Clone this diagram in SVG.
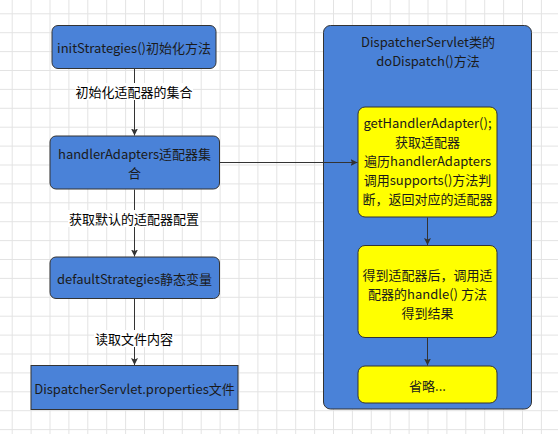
<svg xmlns="http://www.w3.org/2000/svg" width="558" height="434" viewBox="0 0 558 434">
<style>
.bg{fill:#ffffff}
.blue{fill:#4a82d8;stroke:#333333;stroke-width:1}
.yel{fill:#ffff00;stroke:#333333;stroke-width:1}
.t{font-family:"Noto Sans CJK SC","Liberation Sans",sans-serif;font-size:13px;fill:#1a1a1a;text-anchor:middle;dominant-baseline:central}
.lbl{font-family:"Noto Sans CJK SC","Liberation Sans",sans-serif;font-size:13px;fill:#000000;text-anchor:middle;dominant-baseline:central}
.edge{stroke:#333333;stroke-width:1;fill:none}
.lblbg{fill:#ffffff}
</style>
<defs>
<pattern id="grid" patternUnits="userSpaceOnUse" x="11.7" y="13.3" width="18.9" height="18.9">
<path d="M0.5 0V18.9M0 0.5H18.9" stroke="#e3e3e3" stroke-width="1" fill="none"/>
</pattern>
<marker id="arr" markerWidth="8" markerHeight="8" refX="7" refY="4" orient="auto" markerUnits="userSpaceOnUse">
<path d="M0 0.5L7 4L0 7.5L1.5 4Z" fill="#333333"/>
</marker>
</defs>
<rect class="bg" width="558" height="434"/>
<rect width="558" height="434" fill="url(#grid)"/>

<g id="container">
<rect class="blue" x="323.5" y="25.5" width="208" height="383.5" rx="7"/>
<text class="t" x="428" y="41">DispatcherServlet类的</text>
<text class="t" x="428" y="60">doDispatch()方法</text>
</g>

<g id="connectors">
<line class="edge" x1="134.5" y1="68.5" x2="134.5" y2="135.5" marker-end="url(#arr)"/>
<line class="edge" x1="134.5" y1="189.5" x2="134.5" y2="256.5" marker-end="url(#arr)"/>
<line class="edge" x1="134.5" y1="298.5" x2="134.5" y2="365" marker-end="url(#arr)"/>
<line class="edge" x1="219.5" y1="162.5" x2="357.5" y2="162.5" marker-end="url(#arr)"/>
<line class="edge" x1="427.5" y1="217.5" x2="427.5" y2="245" marker-end="url(#arr)"/>
<line class="edge" x1="427.5" y1="337.5" x2="427.5" y2="365.5" marker-end="url(#arr)"/>
<rect class="lblbg" x="75" y="83" width="118" height="17"/>
<text class="lbl" x="134" y="91">初始化适配器的集合</text>
<rect class="lblbg" x="68" y="210" width="132" height="17"/>
<text class="lbl" x="134" y="218">获取默认的适配器配置</text>
<rect class="lblbg" x="94" y="330" width="80" height="17"/>
<text class="lbl" x="134" y="338">读取文件内容</text>
</g>

<g id="initStrategies">
<rect class="blue" x="52" y="25.5" width="164" height="43" rx="6"/>
<text class="t" x="134" y="47">initStrategies()初始化方法</text>
</g>

<g id="handlerAdapters">
<rect class="blue" x="50" y="136" width="169.5" height="53" rx="6"/>
<text class="t" x="134.5" y="153.5">handlerAdapters适配器集</text>
<text class="t" x="134.5" y="172">合</text>
</g>

<g id="defaultStrategies">
<rect class="blue" x="50" y="257" width="169.5" height="41.5" rx="6"/>
<text class="t" x="134.5" y="278">defaultStrategies静态变量</text>
</g>

<g id="properties">
<rect class="blue" x="31" y="365.5" width="207" height="44"/>
<text class="t" x="134.5" y="388">DispatcherServlet.properties文件</text>
</g>

<g id="getHandlerAdapter">
<rect class="yel" x="358" y="107" width="139" height="110" rx="7"/>
<text class="t" x="427.5" y="122">getHandlerAdapter();</text>
<text class="t" x="427.5" y="141">获取适配器</text>
<text class="t" x="427.5" y="160">遍历handlerAdapters</text>
<text class="t" x="427.5" y="179">调用supports()方法判</text>
<text class="t" x="427.5" y="198">断，返回对应的适配器</text>
</g>

<g id="handle">
<rect class="yel" x="358" y="245.5" width="139" height="92" rx="7"/>
<text class="t" x="427.5" y="274">得到适配器后，调用适</text>
<text class="t" x="427.5" y="293">配器的handle() 方法</text>
<text class="t" x="427.5" y="312">得到结果</text>
</g>

<g id="omit">
<rect class="yel" x="358" y="366" width="139" height="37" rx="7"/>
<text class="t" x="427.5" y="385">省略...</text>
</g>
</svg>
